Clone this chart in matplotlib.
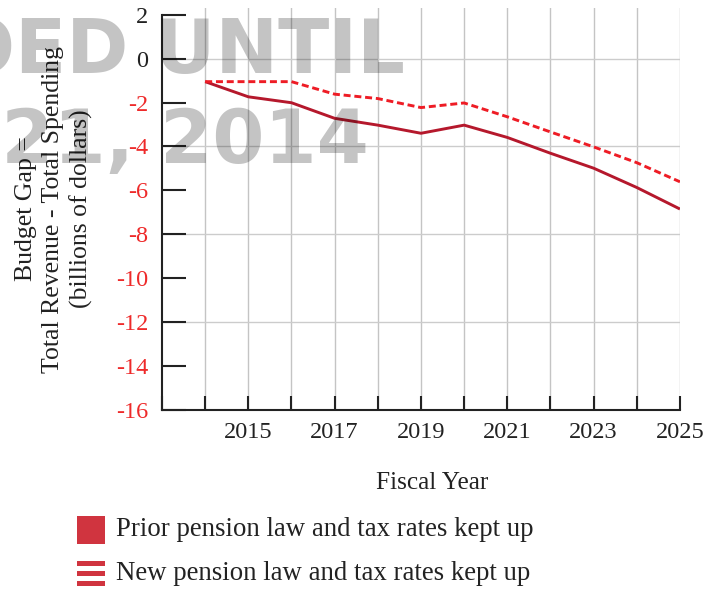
import matplotlib
matplotlib.use("Agg")
import matplotlib.pyplot as plt
from matplotlib.patches import Rectangle

years = [2014, 2015, 2016, 2017, 2018, 2019, 2020, 2021, 2022, 2023, 2024, 2025]
prior_law = [-1.05, -1.74, -2.01, -2.72, -3.03, -3.40, -3.03, -3.59, -4.31, -4.99, -5.87, -6.85]
new_law = [-1.05, -1.05, -1.05, -1.62, -1.82, -2.23, -2.02, -2.65, -3.34, -4.02, -4.74, -5.61]
y_ticks = [2, 0, -2, -4, -6, -8, -10, -12, -14, -16]
y_grid = [0, -4, -8, -12]
x_label_years = [2015, 2017, 2019, 2021, 2023, 2025]
legend_labels = ["Prior pension law and tax rates kept up",
                 "New pension law and tax rates kept up"]

SERIF = "Liberation Serif"
plt.rcParams["font.family"] = [SERIF, "DejaVu Serif"]

fig = plt.figure(figsize=(7.2, 5.9), dpi=100)
ax = fig.add_axes([0.225, 0.3051, 0.7194, 0.6812])

ax.set_xlim(2013, 2025)
ax.set_ylim(-16, 2.3)

# grid
for yr in years:
    ax.axvline(yr, color="#c4c4c4", lw=1.0, zorder=0)
for g in y_grid:
    ax.axhline(g, color="#cccccc", lw=1.0, zorder=0)

ax.plot(years, prior_law, color="#b5182c", lw=2.1, solid_capstyle="butt", zorder=3)
ax.plot(years, new_law, color="#ee1c25", lw=2.1, ls=(0, (2.4, 1.3)), zorder=3)

for s in ["top", "right"]:
    ax.spines[s].set_visible(False)
ax.spines["left"].set_bounds(-16, 2)
ax.spines["left"].set_color("#222222")
ax.spines["bottom"].set_color("#222222")
ax.spines["left"].set_linewidth(1.5)
ax.spines["bottom"].set_linewidth(1.5)

ax.set_yticks(y_ticks)
ax.set_yticklabels([str(v) for v in y_ticks])
ax.tick_params(axis="y", direction="in", length=17, width=1.5, color="#222222",
               labelsize=17.5, pad=10)
for lbl, v in zip(ax.get_yticklabels(), y_ticks):
    lbl.set_color("#222222" if v >= 0 else "#ee2a2a")

ax.set_xticks(list(range(2013, 2026)))
ax.set_xticklabels([str(y) if y in x_label_years else "" for y in range(2013, 2026)])
ax.tick_params(axis="x", direction="in", length=10, width=1.5, color="#222222",
               labelsize=17.5, pad=9, labelcolor="#222222")

ax.set_xlabel("Fiscal Year", fontsize=18.2, color="#222222")
ax.xaxis.set_label_coords(0.521, -0.155)
ax.set_ylabel("Budget Gap =\nTotal Revenue - Total Spending\n(billions of dollars)",
              fontsize=18.5, color="#222222", linespacing=1.3)
ax.yaxis.set_label_coords(-0.133, 0.5)

# watermark
fig.text(405 / 720, 1 - 73 / 590, "EMBARGOED UNTIL", fontsize=54, fontweight="bold",
         family="DejaVu Sans", color="black", alpha=0.23, ha="right", va="baseline",
         zorder=10)
fig.text(369 / 720, 1 - 163 / 590, "JANUARY 21, 2014", fontsize=54, fontweight="bold",
         family="DejaVu Sans", color="black", alpha=0.23, ha="right", va="baseline",
         zorder=10)

# legend
W, H = 720, 590
fig.add_artist(Rectangle((77 / W, 1 - 544 / H), 28 / W, 28 / H,
                         transform=fig.transFigure, color="#d0343f", lw=0))
for top, bot in [(561, 565.5), (570.5, 575.5), (580.5, 585.5)]:
    fig.add_artist(Rectangle((77 / W, 1 - bot / H), 28 / W, (bot - top) / H,
                             transform=fig.transFigure, color="#d0343f", lw=0))
fig.text(116 / W, 1 - 530 / H, legend_labels[0], fontsize=19.3, color="#222222",
         ha="left", va="center")
fig.text(116 / W, 1 - 574 / H, legend_labels[1], fontsize=19.3, color="#222222",
         ha="left", va="center")

fig.savefig("out.png", dpi=100)
